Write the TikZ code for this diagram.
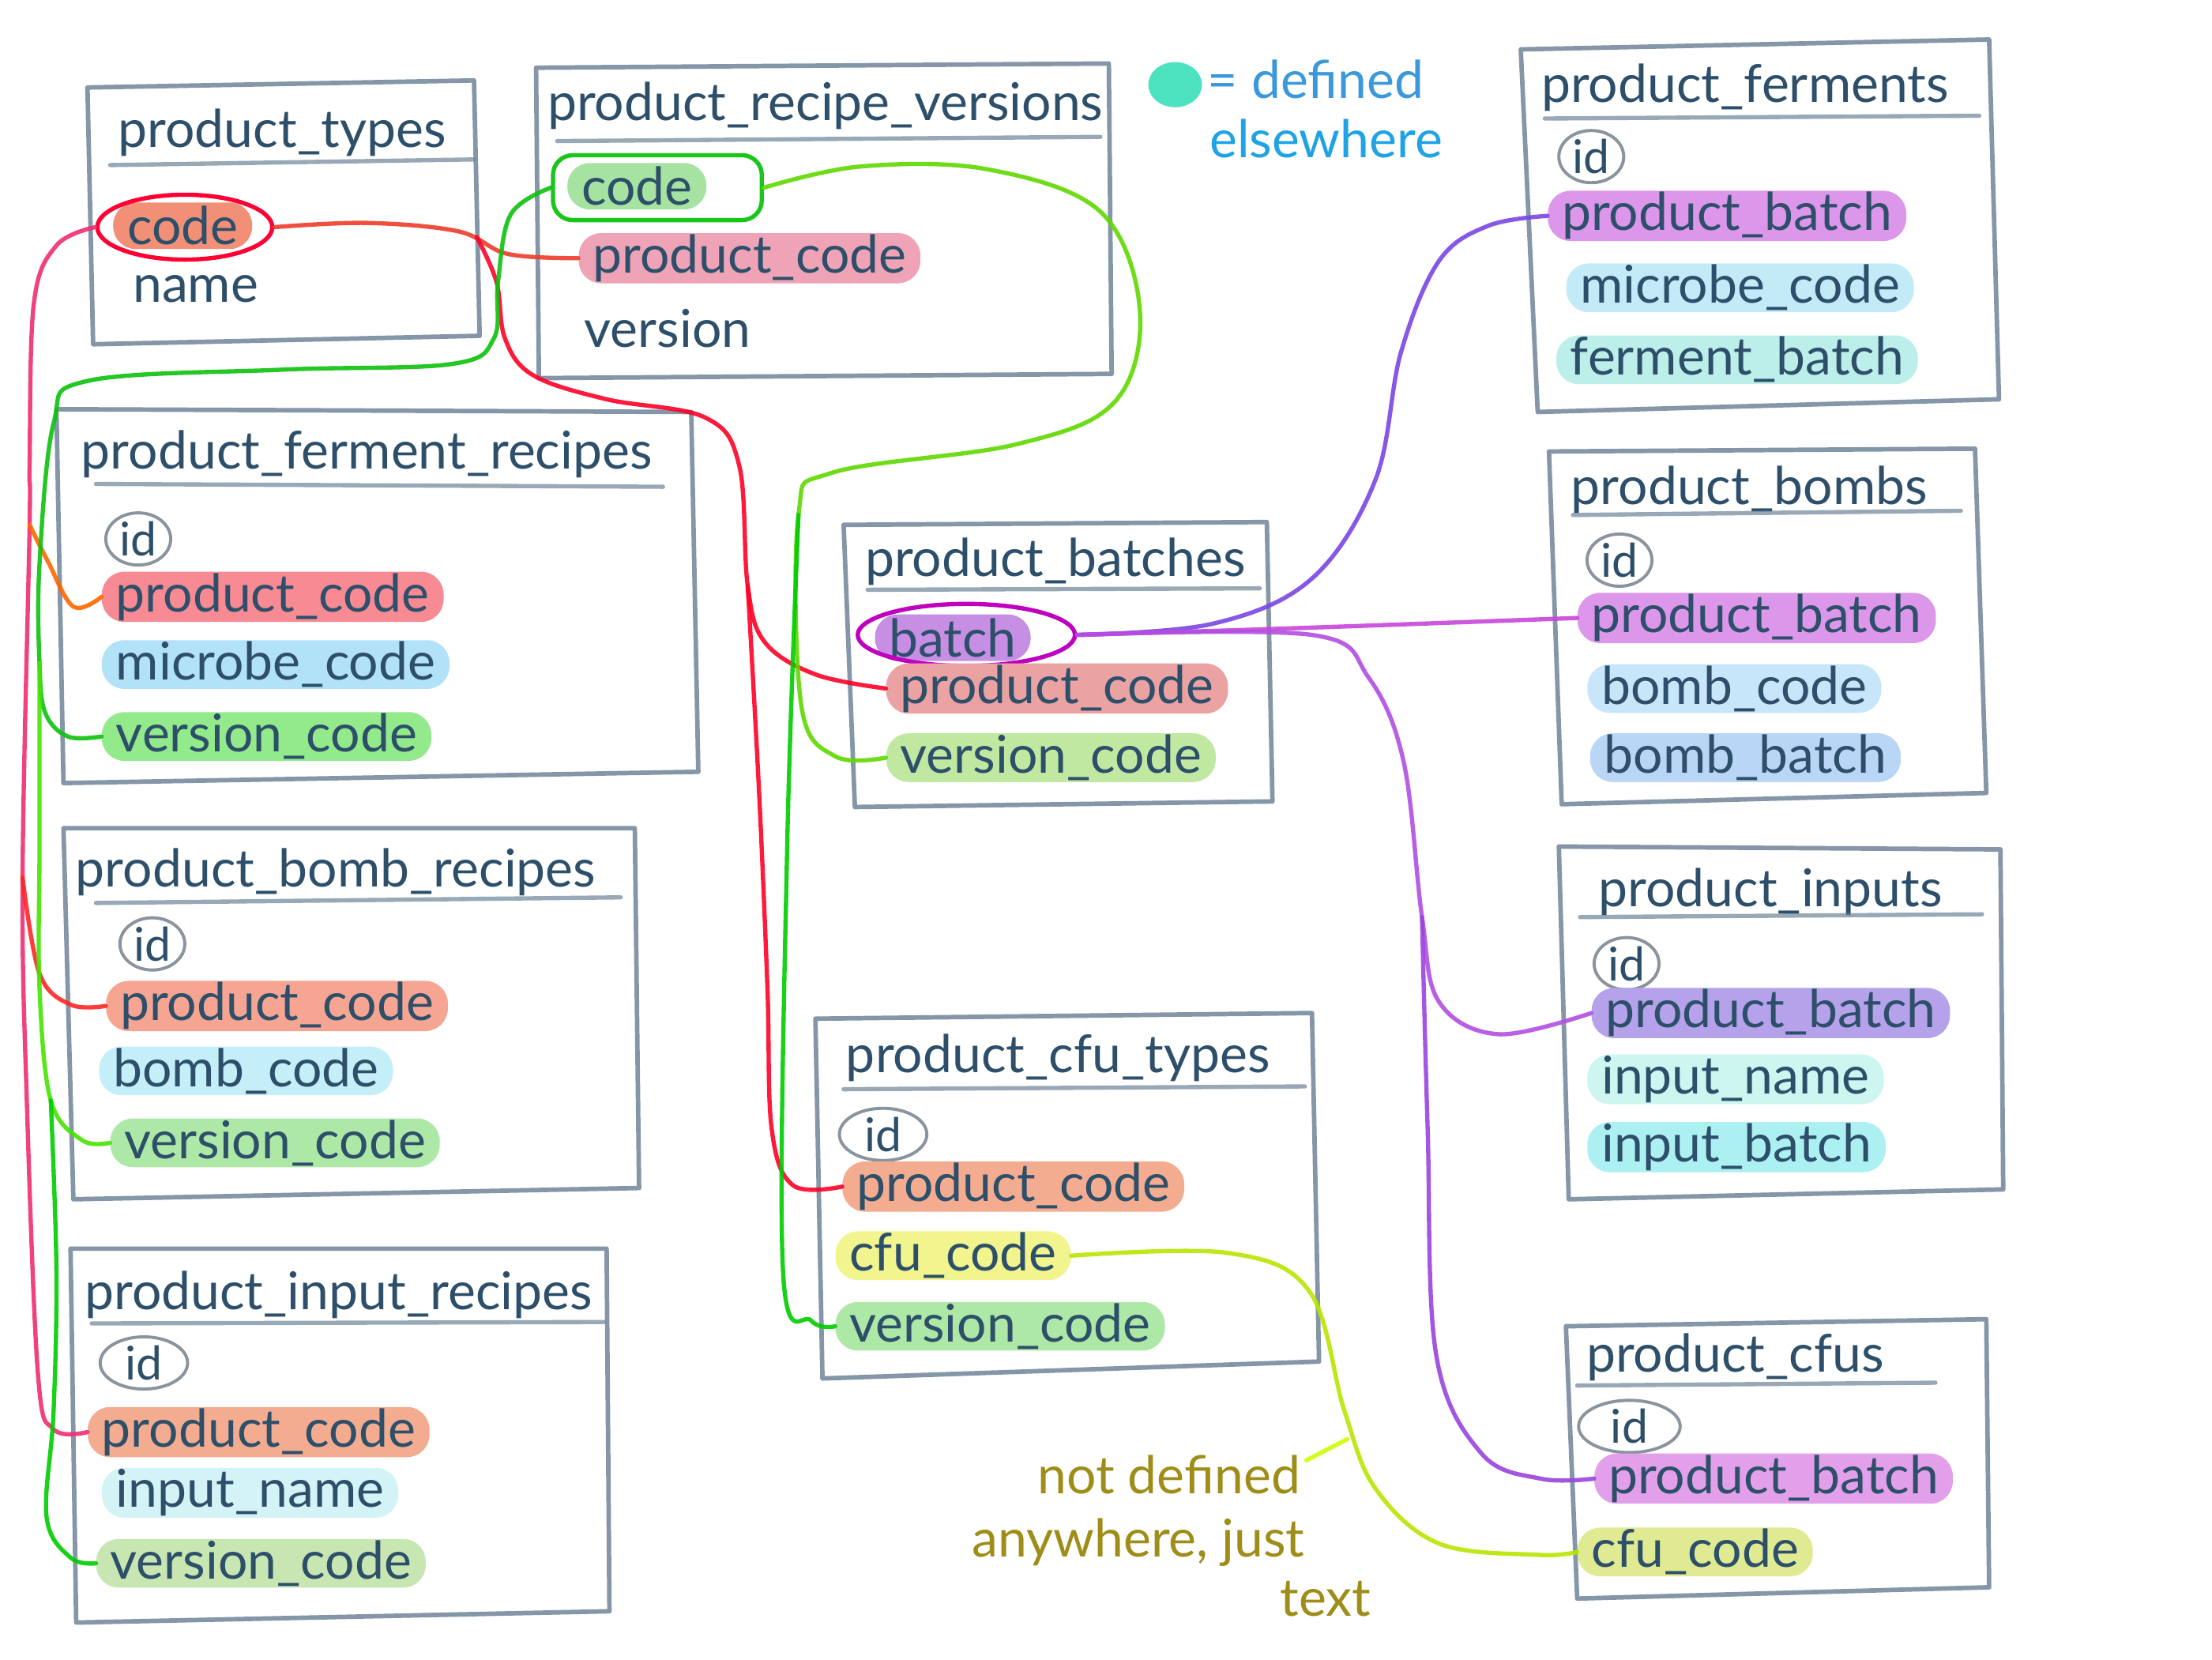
\documentclass[tikz,border=0pt]{standalone}
\usepackage{fontspec}
\setmainfont{Lato}
\usetikzlibrary{shapes.geometric}
\definecolor{boxc}{HTML}{6F8498}
\definecolor{txt}{HTML}{2D4F6A}
\definecolor{idc}{HTML}{8A949C}
\definecolor{hlSalmon}{HTML}{F29077}
\definecolor{hlGreen}{HTML}{A6E3A0}
\definecolor{hlPink}{HTML}{EFA3B6}
\definecolor{hlOrchid}{HTML}{DC96EA}
\definecolor{hlSky}{HTML}{C2EAF7}
\definecolor{hlAqua}{HTML}{BDEFEA}
\definecolor{hlCoral}{HTML}{F78A92}
\definecolor{hlBlue}{HTML}{B2E2F7}
\definecolor{hlLime}{HTML}{92EA8A}
\definecolor{hlPurple}{HTML}{C68FE3}
\definecolor{hlRose}{HTML}{EBA2A2}
\definecolor{hlPale}{HTML}{C0E8A0}
\definecolor{hlBomb}{HTML}{C8E6FA}
\definecolor{hlBombB}{HTML}{BAD6F6}
\definecolor{hlPeach}{HTML}{F5A592}
\definecolor{hlCyanL}{HTML}{C4EEF8}
\definecolor{hlGreenL}{HTML}{ADE8A6}
\definecolor{hlLav}{HTML}{B5A2EA}
\definecolor{hlMint}{HTML}{CCF6EF}
\definecolor{hlCyan}{HTML}{ACF0F2}
\definecolor{hlOrange}{HTML}{F3AC90}
\definecolor{hlYellow}{HTML}{F2F58E}
\definecolor{hlIce}{HTML}{D3F3F6}
\definecolor{hlSage}{HTML}{C8E6B2}
\definecolor{hlMag}{HTML}{E2A0EA}
\definecolor{hlOlive}{HTML}{E0EA92}
\definecolor{wViolet}{HTML}{7B46E4}
\definecolor{wMagenta}{HTML}{C845DC}
\definecolor{wPurple}{HTML}{B24EE2}
\definecolor{wPurple2}{HTML}{9A44DE}
\tikzset{
  tablebox/.style={draw=boxc, line width=3.2pt, line join=round, opacity=0.85},
  uline/.style={draw=boxc, line width=3pt, line cap=round, opacity=0.7},
  ttl/.style={font=\fontsize{37}{40}\selectfont, text=txt, inner sep=0pt},
  field/.style={font=\fontsize{37}{40}\selectfont, text=txt, anchor=west, inner xsep=10pt, inner ysep=1pt, minimum height=33pt, rounded corners=16pt},
  plainf/.style={font=\fontsize{37}{40}\selectfont, text=txt, anchor=west, inner sep=2pt},
  idn/.style={font=\fontsize{33}{36}\selectfont, text=txt, draw=idc, line width=2.2pt, ellipse, inner xsep=0pt, inner ysep=0pt, minimum height=37pt, minimum width=46pt},
  wire/.style={line width=3pt, line cap=round, line join=round, opacity=0.9},
  note/.style={font=\fontsize{37}{40}\selectfont, text=olive!70!brown, anchor=east, inner sep=0pt},
}
\begin{document}
\begin{tikzpicture}[x=1pt,y=-1pt]
\fill[white] (0,0) rectangle (1568,1176);
\useasboundingbox (0,0) rectangle (1568,1176);

% ---------- boxes ----------
% product_types
\draw[tablebox] (62,62) -- (336,57) -- (340,238) -- (66,244) -- cycle;
\node[ttl] (t1) at (200,94) {product\_types};
\draw[uline] (78,117) -- (336,113);
\node[field, fill=hlSalmon] (pt_code) at (80,160) {code};
\node[draw=red!80!magenta, line width=3pt, ellipse, minimum width=124pt, minimum height=46pt] (pt_ring) at (131,161) {};
\node[plainf] (pt_name) at (92,205) {name};

% product_recipe_versions
\draw[tablebox] (380,48) -- (786,45) -- (788,265) -- (382,268) -- cycle;
\node[ttl] (t2) at (585,75) {product\_recipe\_versions};
\draw[uline] (395,100) -- (780,97);
\node[field, fill=hlGreen] (prv_code) at (402,132) {code};
\node[draw=green!75!black!90, line width=3pt, rounded corners=14pt, minimum width=148pt, minimum height=46pt] (prv_ring) at (466,133) {};
\node[field, fill=hlPink] (prv_pc) at (410,183) {product\_code};
\node[plainf] (prv_ver) at (412,233) {version};

% legend
\fill[teal!40!cyan!80!green!70] (833,60) ellipse [x radius=19pt, y radius=16pt];
\node[font=\fontsize{37}{40}\selectfont, text=cyan!70!blue!80, anchor=west, inner sep=0pt] (leg1) at (856,56) {= defined};
\node[font=\fontsize{37}{40}\selectfont, text=cyan!85!blue!90, inner sep=0pt] (leg2) at (940,98) {elsewhere};

% product_ferments
\draw[tablebox] (1078,35) -- (1410,28) -- (1417,283) -- (1090,292) -- cycle;
\node[ttl] (t3) at (1237,62) {product\_ferments};
\draw[uline] (1095,84) -- (1403,82);
\node[idn] (fer_id) at (1128,111) {id};
\node[field, fill=hlOrchid] (fer_pb) at (1097,153) {product\_batch};
\node[field, fill=hlSky] (fer_mc) at (1110,204) {microbe\_code};
\node[field, fill=hlAqua] (fer_fb) at (1103,255) {ferment\_batch};

% product_ferment_recipes
\draw[tablebox] (40,290) -- (490,292) -- (495,547) -- (45,555) -- cycle;
\node[ttl] (t4) at (260,322) {product\_ferment\_recipes};
\draw[uline] (68,343) -- (470,345);
\node[idn] (pfr_id) at (98,382) {id};
\node[field, fill=hlCoral] (pfr_pc) at (72,423) {product\_code};
\node[field, fill=hlBlue] (pfr_mc) at (72,471) {microbe\_code};
\node[field, fill=hlLime] (pfr_vc) at (72,522) {version\_code};

% product_batches
\draw[tablebox] (598,372) -- (898,370) -- (902,568) -- (606,572) -- cycle;
\node[ttl] (t5) at (748,398) {product\_batches};
\draw[uline] (615,418) -- (893,417);
\node[field, fill=hlPurple] (b_batch) at (620,452) {batch};
\node[draw=violet!50!magenta, line width=3pt, ellipse, minimum width=154pt, minimum height=44pt] (b_ring) at (685,450) {};
\node[field, fill=hlRose] (b_pc) at (628,488) {product\_code};
\node[field, fill=hlPale] (b_vc) at (628,537) {version\_code};

% product_bombs
\draw[tablebox] (1098,320) -- (1400,318) -- (1408,562) -- (1107,570) -- cycle;
\node[ttl] (t6) at (1240,347) {product\_bombs};
\draw[uline] (1115,365) -- (1390,362);
\node[idn] (bo_id) at (1148,397) {id};
\node[field, fill=hlOrchid] (bo_pb) at (1118,438) {product\_batch};
\node[field, fill=hlBomb] (bo_bc) at (1125,488) {bomb\_code};
\node[field, fill=hlBombB] (bo_bb) at (1127,537) {bomb\_batch};

% product_bomb_recipes
\draw[tablebox] (45,587) -- (450,587) -- (453,842) -- (52,850) -- cycle;
\node[ttl] (t7) at (238,618) {product\_bomb\_recipes};
\draw[uline] (68,640) -- (440,636);
\node[idn] (pbr_id) at (108,669) {id};
\node[field, fill=hlPeach] (pbr_pc) at (75,713) {product\_code};
\node[field, fill=hlCyanL] (pbr_bc) at (70,759) {bomb\_code};
\node[field, fill=hlGreenL] (pbr_vc) at (78,810) {version\_code};

% product_inputs
\draw[tablebox] (1105,600) -- (1418,602) -- (1420,843) -- (1112,850) -- cycle;
\node[ttl] (t8) at (1255,632) {product\_inputs};
\draw[uline] (1120,650) -- (1405,648);
\node[idn] (in_id) at (1153,683) {id};
\node[field, fill=hlLav] (in_pb) at (1128,718) {product\_batch};
\node[field, fill=hlMint] (in_nm) at (1125,765) {input\_name};
\node[field, fill=hlCyan] (in_bt) at (1125,813) {input\_batch};

% product_cfu_types
\draw[tablebox] (578,722) -- (930,718) -- (935,965) -- (583,977) -- cycle;
\node[ttl] (t9) at (750,750) {product\_cfu\_types};
\draw[uline] (598,772) -- (925,770);
\node[idn, minimum width=62pt] (ct_id) at (626,804) {id};
\node[field, fill=hlOrange] (ct_pc) at (597,841) {product\_code};
\node[field, fill=hlYellow] (ct_cc) at (592,890) {cfu\_code};
\node[field, fill=hlGreenL] (ct_vc) at (592,940) {version\_code};

% product_input_recipes
\draw[tablebox] (50,885) -- (430,885) -- (432,1142) -- (54,1150) -- cycle;
\node[ttl] (t10) at (240,918) {product\_input\_recipes};
\draw[uline] (65,938) -- (428,937);
\node[idn, minimum width=62pt] (pir_id) at (102,966) {id};
\node[field, fill=hlOrange] (pir_pc) at (62,1015) {product\_code};
\node[field, fill=hlIce] (pir_nm) at (72,1058) {input\_name};
\node[field, fill=hlSage] (pir_vc) at (68,1108) {version\_code};

% product_cfus
\draw[tablebox] (1110,940) -- (1408,935) -- (1410,1125) -- (1118,1133) -- cycle;
\node[ttl] (t11) at (1230,962) {product\_cfus};
\draw[uline] (1118,982) -- (1372,980);
\node[idn, minimum width=72pt] (cf_id) at (1155,1011) {id};
\node[field, fill=hlMag] (cf_pb) at (1130,1048) {product\_batch};
\node[field, fill=hlOlive] (cf_cc) at (1118,1100) {cfu\_code};

% annotation
\node[note] (ann1) at (922,1045) {not defined};
\node[note] (ann2) at (925,1093) {anywhere, just};
\node[note] (ann3) at (972,1133) {text};
\coordinate (annptr) at (955,1020);
\draw[wire, lime!80!yellow] (ann1.east) ++(4,-10) -- (annptr);

% ---------- connectors ----------
\coordinate (redsplit) at (338,168);
\coordinate (redsplit2) at (530,415);
\draw[wire, red!70!brown!90] plot[smooth, tension=0.6] coordinates {(pt_ring.east) (260,158) (325,164) (360,180) (prv_pc.west)};
\draw[wire, red!85!magenta] plot[smooth, tension=0.6] coordinates {(redsplit) (352,200) (358,240) (378,266) (430,283) (500,296) (524,330) (redsplit2) (542,455) (578,478) (b_pc.west)};
\draw[wire, red!85!magenta] plot[smooth, tension=0.6] coordinates {(redsplit2) (538,560) (544,700) (547,800) (562,840) (ct_pc.west)};

\coordinate (pinkA) at (21,372);
\coordinate (pinkB) at (16,622);
\draw[wire, magenta!60!red!85] plot[smooth, tension=0.6] coordinates {(pt_ring.west) (40,174) (24,215) (21,330) (pinkA) (pinkB) (19,780) (27,975) (38,1013) (pir_pc.west)};
\draw[wire, orange!80!red] plot[smooth, tension=0.6] coordinates {(pinkA) (34,398) (52,430) (pfr_pc.west)};
\draw[wire, red!85] plot[smooth, tension=0.6] coordinates {(pinkB) (28,690) (50,712) (pbr_pc.west)};

\coordinate (grA) at (28,470);
\coordinate (grB) at (36,780);
\draw[wire, green!75!black!95] plot[smooth, tension=0.6] coordinates {(prv_ring.west) (362,152) (353,200) (350,240) (320,258) (200,262) (62,270) (38,300) (28,400) (grA) (32,505) (48,522) (pfr_vc.west)};
\draw[wire, green!60!lime!90!black] plot[smooth, tension=0.6] coordinates {(grA) (28,600) (28,700) (grB) (58,808) (pbr_vc.west)};
\draw[wire, green!80!black] plot[smooth, tension=0.6] coordinates {(grB) (40,900) (38,1000) (33,1075) (50,1104) (pir_vc.west)};

\coordinate (grC) at (566,365);
\draw[wire, lime!60!green!85!black] plot[smooth, tension=0.6] coordinates {(prv_ring.east) (610,118) (700,120) (780,150) (808,220) (790,285) (720,315) (590,335) (grC) (568,500) (592,536) (b_vc.west)};
\draw[wire, green!80!black] plot[smooth, tension=0.6] coordinates {(grC) (558,600) (555,900) (575,936) (ct_vc.west)};

\coordinate (puA) at (1008,650);
\draw[wire, wViolet] plot[smooth, tension=0.6] coordinates {(b_ring.east) (860,442) (930,410) (975,340) (993,250) (1020,185) (1055,160) (fer_pb.west)};
\draw[wire, wMagenta] (b_ring.east) .. controls (900,446) .. (bo_pb.west);
\draw[wire, wPurple] plot[smooth, tension=0.6] coordinates {(b_ring.east) (930,450) (970,480) (995,540) (puA) (1020,710) (1062,733) (in_pb.west)};
\draw[wire, wPurple2] plot[smooth, tension=0.6] coordinates {(puA) (1012,800) (1018,960) (1050,1030) (1092,1048) (cf_pb.west)};

\draw[wire, lime!75!yellow!90!black] plot[smooth, tension=0.6] coordinates {(ct_cc.east) (870,888) (928,915) (953,1000) (975,1055) (1020,1094) (1090,1102) (cf_cc.west)};
\end{tikzpicture}
\end{document}
